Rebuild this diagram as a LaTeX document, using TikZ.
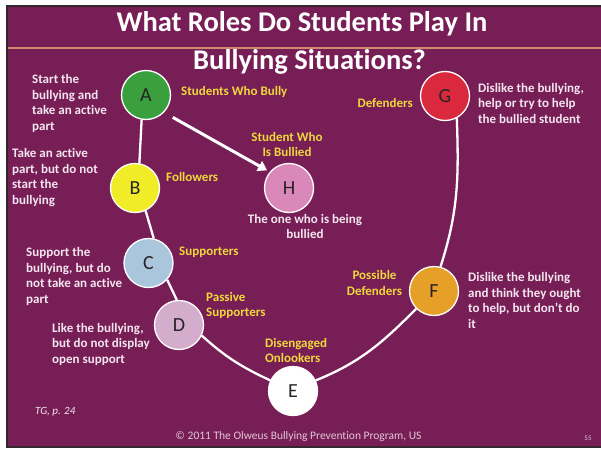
\documentclass[tikz,border=0pt]{standalone}
\usepackage{fontspec}
\setmainfont{Carlito}[Ligatures=NoCommon]
\usetikzlibrary{arrows.meta}
\definecolor{bgpurple}{RGB}{120,30,86}
\definecolor{slideedge}{RGB}{50,40,45}
\definecolor{tanline}{RGB}{205,140,110}
\definecolor{labyellow}{RGB}{238,216,60}
\definecolor{desctext}{RGB}{242,230,238}
\definecolor{cA}{RGB}{58,160,62}
\definecolor{cB}{RGB}{240,236,40}
\definecolor{cC}{RGB}{170,198,220}
\definecolor{cD}{RGB}{212,172,204}
\definecolor{cE}{RGB}{255,255,255}
\definecolor{cF}{RGB}{230,160,40}
\definecolor{cG}{RGB}{218,40,60}
\definecolor{cH}{RGB}{218,135,185}
\definecolor{lettercol}{RGB}{40,35,40}
\begin{document}
\begin{tikzpicture}[x=1pt,y=1pt,
  role/.style={circle, draw=white, line width=1.3pt, minimum size=49pt, inner sep=0pt,
    font=\fontsize{20}{20}\selectfont, text=lettercol},
  lab/.style={text=labyellow, font=\bfseries\fontsize{13}{15.5}\selectfont, inner sep=0pt},
  desc/.style={text=desctext, font=\bfseries\fontsize{13}{15.5}\selectfont, align=left, inner sep=0pt},
  titletext/.style={text=white, font=\bfseries\fontsize{28.5}{34}\selectfont, inner sep=0pt},
  link/.style={draw=white, line width=2.3pt},
  bigarrow/.style={draw=white, line width=3pt, -{Triangle[length=9pt,width=11pt]}}
]
\useasboundingbox (0,0) rectangle (601,451);
\fill[white] (0,0) rectangle (601,451);
\fill[bgpurple] (6,3) rectangle (601,446);
\draw[slideedge, line width=2pt] (601,4) -- (7,4) -- (7,445) -- (601,445);
\draw[tanline, line width=1.2pt] (8,403) -- (601,403);

% title
\node[titletext, anchor=base] (t1) at (302,420) {What Roles Do Students Play In};
\node[titletext, anchor=base] (t2) at (309.5,382) {Bullying Situations?};

% role circles
\node[role, fill=cA] (A) at (146,356) {A};
\node[role, fill=cB] (B) at (135,263) {B};
\node[role, fill=cC] (C) at (148.5,188) {C};
\node[role, fill=cD] (D) at (179,126) {D};
\node[role, fill=cE] (E) at (293,60) {E};
\node[role, fill=cF] (F) at (434,160) {F};
\node[role, fill=cG] (G) at (445,355) {G};
\node[role, fill=cH] (H) at (289,263) {H};

% connectors
\draw[link] (A.-100) -- (B.80);
\draw[link] (B.-65) -- (C.78);
\draw[link] (C.-42) -- (D.95);
\draw[link] (D.-25) to[out=-42,in=155] (E.155);
\draw[link] (E.25) to[out=22,in=225] (F.225);
\draw[link] (F.75) to[out=72,in=-88] (G.-62);
\draw[bigarrow, shorten <=10pt, shorten >=3pt] (A.-44) -- (H.140);

% yellow labels
\node[lab, anchor=west] (lA) at (181,359) {Students Who Bully};
\node[lab, anchor=west] (lB) at (166,274) {Followers};
\node[lab, align=center] (lH) at (287,306.5) {Student Who\\Is Bullied};
\node[lab, anchor=west] (lC) at (179,199) {Supporters};
\node[lab, anchor=west, align=left] (lD) at (206,145.5) {Passive\\Supporters};
\node[lab, anchor=west, align=left] (lE) at (265,100.5) {Disengaged\\Onlookers};
\node[lab, align=center] (lF) at (374.5,168) {Possible\\Defenders};
\node[lab, anchor=east] (lG) at (413,348) {Defenders};

% descriptions
\node[desc, anchor=west] (dA) at (32,347.5) {Start the\\bullying and\\take an active\\part};
\node[desc, anchor=west] (dB) at (12,273.5) {Take an active\\part, but do not\\start the\\bullying};
\node[desc, anchor=west] (dC) at (26,174.5) {Support the\\bullying, but do\\not take an active\\part};
\node[desc, anchor=west] (dD) at (52,107) {Like the bullying,\\but do not display\\open support};
\node[desc, anchor=west] (dG) at (478,348) {Dislike the bullying,\\help or try to help\\the bullied student};
\node[desc, anchor=west] (dF) at (468,150.5) {Dislike the bullying\\and think they ought\\to help, but don’t do\\it};
\node[desc, align=center] (dH) at (305,224.5) {The one who is being\\bullied};

% footer
\node[text=desctext, font=\itshape\fontsize{11}{13}\selectfont, anchor=west, inner sep=0pt] (tg) at (35,39) {TG, p. 24};
\node[text=desctext!85!bgpurple, font=\fontsize{11.5}{13}\selectfont, inner sep=0pt] (copy) at (298.5,15) {© 2011 The Olweus Bullying Prevention Program, US};
\node[text=desctext!85!bgpurple, font=\fontsize{7}{8}\selectfont, inner sep=0pt] (pg) at (588,13) {55};
\end{tikzpicture}
\end{document}
